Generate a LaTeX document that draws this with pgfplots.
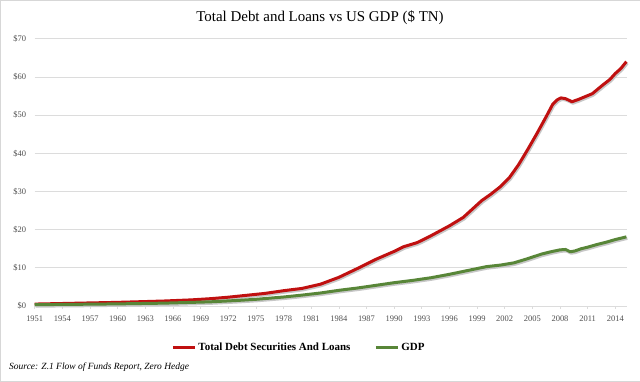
\documentclass[border=0pt]{standalone}
\usepackage{pgfplots}
\pgfplotsset{compat=1.18}
\usepackage{fontspec}
\setmainfont{Liberation Serif}
\definecolor{debtred}{RGB}{192,16,16}
\definecolor{gdpgreen}{RGB}{88,134,56}
\definecolor{gridgray}{RGB}{220,220,220}
\definecolor{ticktext}{RGB}{80,80,80}
\begin{document}
\begin{tikzpicture}[x=1bp,y=1bp]
\draw[draw={rgb,255:red,215;green,215;blue,215}, fill=white] (0.5,0.5) rectangle (639.5,381.5);
\node[font=\fontsize{15}{17}\selectfont] at (320,364) {Total Debt and Loans vs US GDP (\$ TN)};
\node[anchor=west, font=\fontsize{9.5}{11}\selectfont\itshape] at (6,15) {Source: Z.1 Flow of Funds Report, Zero Hedge};
\begin{axis}[
  at={(35bp,76bp)}, anchor=south west,
  scale only axis, width=592bp, height=267bp,
  xmin=1951, xmax=2015.3, ymin=0, ymax=70,
  xtick={1951,1954,...,2014},
  ytick={0,10,...,70},
  x tick label style={/pgf/number format/1000 sep={}, yshift=-3bp},
  /pgf/number format/assume math mode=true,
  yticklabel={\$\pgfmathprintnumber{\tick}},
  tick label style={font=\fontsize{8.5}{9}\selectfont, color=ticktext},
  ymajorgrids, grid style={gridgray, line width=0.8pt},
  axis x line*=bottom, axis y line*=left,
  x axis line style={gridgray, line width=0.8pt},
  y axis line style={draw=none},
  xtick style={gridgray, line width=0.6pt},
  tick align=outside, major tick length=3bp,
  ytick style={draw=none},
  yticklabel style={xshift=-2bp},
  legend style={at={(0.446,-0.155)}, anchor=center, draw=none, fill=none,
    legend columns=2, font=\fontsize{11}{13}\selectfont\bfseries,
    /tikz/every even column/.append style={column sep=22bp}},
  legend image code/.code={\draw[#1, line width=3pt] (0bp,0bp) -- (22bp,0bp);},
  clip=false,
]
% shadows
\addplot[forget plot, color=black!22, line width=3pt, line join=round, transform canvas={xshift=1bp,yshift=-1.5bp}] table {
1951 0.50
1955 0.70
1960 0.95
1965 1.30
1968 1.60
1970 1.90
1972 2.30
1974 2.80
1976 3.30
1978 4.00
1980 4.60
1982 5.70
1984 7.50
1986 9.80
1987 11.0
1988 12.2
1990 14.3
1991 15.5
1992.5 16.6
1994 18.4
1996 21.0
1997.5 23.2
1999.5 27.6
2000.5 29.3
2001.5 31.2
2002.5 33.6
2003.5 37.0
2004.5 41.0
2005.5 45.2
2006.5 49.6
2007.2 52.8
2007.7 54.0
2008.1 54.5
2008.6 54.3
2009.3 53.5
2010.0 54.1
2010.8 54.9
2011.5 55.6
2012.0 56.6
2012.7 58.0
2013.4 59.3
2014.0 60.9
2014.6 62.2
2015.2 64.0
};
\addplot[forget plot, color=black!22, line width=3pt, line join=round, transform canvas={xshift=1bp,yshift=-1.5bp}] table {
1951 0.35
1955 0.42
1960 0.55
1965 0.74
1970 1.08
1973 1.45
1975 1.75
1978 2.35
1980 2.85
1982 3.40
1984 4.10
1986 4.70
1988 5.40
1990 6.10
1992 6.70
1994 7.40
1996 8.30
1998 9.30
2000 10.30
2001.5 10.70
2003 11.30
2004.5 12.40
2006 13.60
2007 14.20
2008 14.70
2008.6 14.80
2009.1 14.20
2009.6 14.40
2010.3 15.00
2011 15.40
2012 16.10
2013 16.70
2014 17.40
2015.2 18.10
};
\addplot[color=debtred, line width=3pt, line join=round] table {
1951 0.50
1955 0.70
1960 0.95
1965 1.30
1968 1.60
1970 1.90
1972 2.30
1974 2.80
1976 3.30
1978 4.00
1980 4.60
1982 5.70
1984 7.50
1986 9.80
1987 11.0
1988 12.2
1990 14.3
1991 15.5
1992.5 16.6
1994 18.4
1996 21.0
1997.5 23.2
1999.5 27.6
2000.5 29.3
2001.5 31.2
2002.5 33.6
2003.5 37.0
2004.5 41.0
2005.5 45.2
2006.5 49.6
2007.2 52.8
2007.7 54.0
2008.1 54.5
2008.6 54.3
2009.3 53.5
2010.0 54.1
2010.8 54.9
2011.5 55.6
2012.0 56.6
2012.7 58.0
2013.4 59.3
2014.0 60.9
2014.6 62.2
2015.2 64.0
};
\addlegendentry{Total Debt Securities And Loans}
\addplot[color=gdpgreen, line width=3pt, line join=round] table {
1951 0.35
1955 0.42
1960 0.55
1965 0.74
1970 1.08
1973 1.45
1975 1.75
1978 2.35
1980 2.85
1982 3.40
1984 4.10
1986 4.70
1988 5.40
1990 6.10
1992 6.70
1994 7.40
1996 8.30
1998 9.30
2000 10.30
2001.5 10.70
2003 11.30
2004.5 12.40
2006 13.60
2007 14.20
2008 14.70
2008.6 14.80
2009.1 14.20
2009.6 14.40
2010.3 15.00
2011 15.40
2012 16.10
2013 16.70
2014 17.40
2015.2 18.10
};
\addlegendentry{GDP}
\end{axis}
\end{tikzpicture}
\end{document}
